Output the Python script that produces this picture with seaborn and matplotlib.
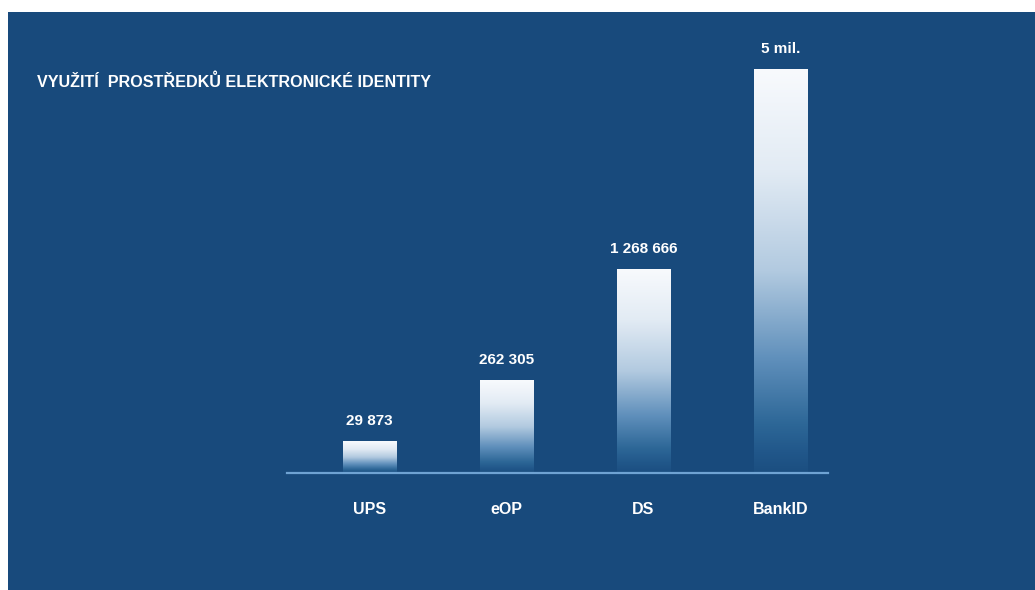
import numpy as np
import pandas as pd
import matplotlib
matplotlib.use("Agg")
import matplotlib.pyplot as plt
import seaborn as sns
from matplotlib.colors import LinearSegmentedColormap
from matplotlib.patches import Rectangle

# ---- data ----
categories = ["UPS", "eOP", "DS", "BankID"]
values = [29873, 262305, 1268666, 5000000]
value_labels = ["29 873", "262 305", "1 268 666", "5 mil."]
title = "VYUŽITÍ  PROSTŘEDKŮ ELEKTRONICKÉ IDENTITY"

BG = "#184a7c"
LINE = "#6fa3d3"

sns.set_theme(style="white")
plt.rcParams["font.family"] = ["Liberation Sans", "DejaVu Sans"]

W, H = 1035, 590
fig = plt.figure(figsize=(W / 100, H / 100), dpi=100, facecolor="white")
fig.patches.append(Rectangle((8 / W, 0), 1 - 8 / W, (H - 12) / H,
                             transform=fig.transFigure, facecolor=BG,
                             edgecolor="none", zorder=-10))

ax = fig.add_axes([287 / W, (H - 473) / H, 541 / W, 443 / H])
ax.set_facecolor("none")

df = pd.DataFrame({"cat": categories, "val": values})
sns.barplot(data=df, x="cat", y="val", ax=ax, width=0.39, color="white",
            saturation=1)

ax.set_yscale("function", functions=(lambda v: np.sqrt(np.clip(v, 0, None)),
                                     lambda v: np.square(v)))
XLIM = (-0.602, 3.347)
YLIM = (0, 6.04e6)
ax.set_xlim(*XLIM)
ax.set_ylim(*YLIM)
ax.set_autoscale_on(False)

cmap = LinearSegmentedColormap.from_list(
    "barfade",
    [(0.0, "#1b4e80"), (0.05, "#21578a"), (0.12, "#2d6797"),
     (0.28, "#5f8fbb"), (0.5, "#b2cae0"), (0.75, "#e2ebf4"),
     (1.0, "#f8fafd")])
grad = np.linspace(0, 1, 256).reshape(-1, 1)

to_axes = ax.transData + ax.transAxes.inverted()
for p in list(ax.patches):
    x0, w, h = p.get_x(), p.get_width(), p.get_height()
    (ax0, ay0), (ax1, ay1) = to_axes.transform([(x0, 0), (x0 + w, h)])
    ax.imshow(grad, origin="lower", extent=[ax0, ax1, ay0, ay1],
              transform=ax.transAxes, aspect="auto", cmap=cmap,
              interpolation="bilinear", zorder=2)
    p.set_visible(False)

ax.set_xlim(*XLIM)
ax.set_ylim(*YLIM)

for i, (v, lab) in enumerate(zip(values, value_labels)):
    ax.annotate(lab, xy=(i, v), xytext=(0, 10), textcoords="offset points",
                ha="center", va="bottom", color="white", fontweight="bold",
                fontsize=11)

ax.set_xlabel("")
ax.set_ylabel("")
ax.set_yticks([])
ax.tick_params(axis="x", length=0, pad=21, labelsize=11.5, labelcolor="white")
for t in ax.get_xticklabels():
    t.set_fontweight("bold")
for s in ["left", "right", "top"]:
    ax.spines[s].set_visible(False)
ax.spines["bottom"].set_color(LINE)
ax.spines["bottom"].set_linewidth(1.6)

fig.text(37 / W, 1 - 82 / H, title, color="white", fontweight="bold",
         fontsize=11.6, va="center", ha="left")

fig.savefig("out.png", dpi=100, facecolor=fig.get_facecolor())
